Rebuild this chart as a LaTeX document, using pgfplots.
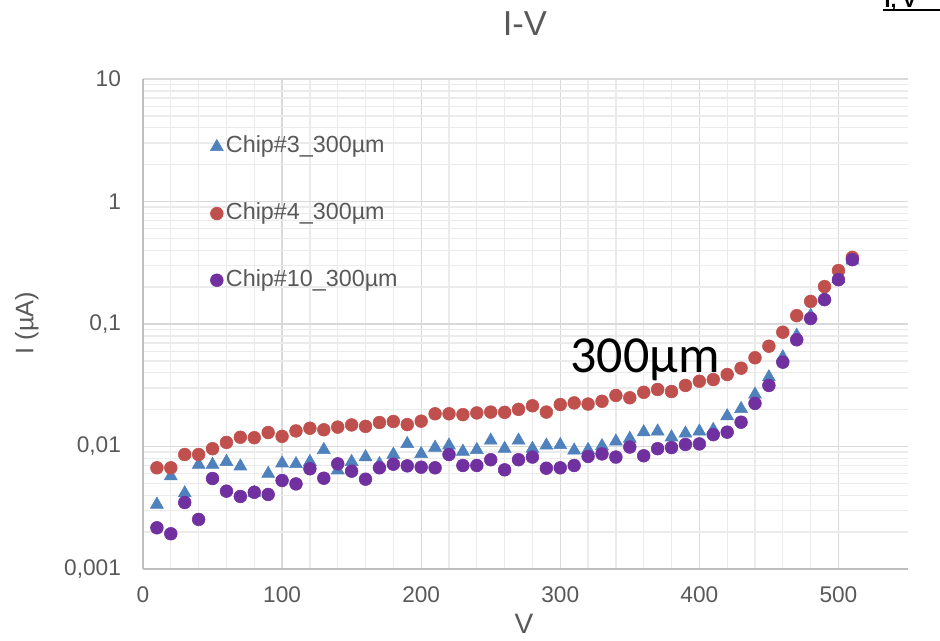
\documentclass[border=0pt]{standalone}
\usepackage{pgfplots}
\pgfplotsset{compat=1.18}
\usepackage{fontspec}
\setmainfont{Liberation Sans}
\newfontfamily\calfont{Carlito}
\definecolor{textgray}{HTML}{595959}
\definecolor{gridmajor}{HTML}{D9D9D9}
\definecolor{gridminor}{HTML}{EBEBEB}
\definecolor{axisgray}{HTML}{BFBFBF}
\definecolor{cblue}{HTML}{4F81BD}
\definecolor{cred}{HTML}{C0504D}
\definecolor{cpurple}{HTML}{7030A0}
\pgfplotstableread{
V I
10 0.00336
20 0.00573
30 0.00416
40 0.0071
50 0.0071
60 0.0075
70 0.0069
80 0.0042
90 0.0060
100 0.0073
110 0.0072
120 0.0075
130 0.0094
140 0.0064
150 0.0075
160 0.0082
170 0.0072
180 0.0086
190 0.0105
200 0.0087
210 0.0098
220 0.0102
230 0.0091
240 0.0094
250 0.0112
260 0.0096
270 0.0112
280 0.0096
290 0.0102
300 0.0103
310 0.0093
320 0.0094
330 0.0101
340 0.0110
350 0.0116
360 0.0131
370 0.0133
380 0.0119
390 0.0128
400 0.0133
410 0.0137
420 0.0177
430 0.0203
440 0.0266
450 0.0368
460 0.0536
470 0.0806
480 0.117
490 0.166
500 0.234
510 0.33
}\chipthree
\pgfplotstableread{
V I
10 0.0067
20 0.0067
30 0.0086
40 0.0086
50 0.0096
60 0.0108
70 0.0119
80 0.0118
90 0.0130
100 0.0121
110 0.0134
120 0.0141
130 0.0137
140 0.0144
150 0.0150
160 0.0146
170 0.0157
180 0.0160
190 0.0151
200 0.0161
210 0.0185
220 0.0185
230 0.0182
240 0.0188
250 0.0191
260 0.0190
270 0.0201
280 0.0215
290 0.0191
300 0.0220
310 0.0227
320 0.0222
330 0.0234
340 0.0261
350 0.0250
360 0.0277
370 0.0292
380 0.0281
390 0.0315
400 0.0341
410 0.0352
420 0.0387
430 0.0436
440 0.0530
450 0.0659
460 0.0857
470 0.117
480 0.153
490 0.202
500 0.273
510 0.35
}\chipfour
\pgfplotstableread{
V I
10 0.00217
20 0.00194
30 0.00349
40 0.00254
50 0.00548
60 0.00432
70 0.00391
80 0.00423
90 0.00406
100 0.00528
110 0.00495
120 0.00658
130 0.00551
140 0.00722
150 0.00629
160 0.00541
170 0.0067
180 0.00717
190 0.00695
200 0.00678
210 0.0067
220 0.0086
230 0.0070
240 0.0070
250 0.0078
260 0.00645
270 0.0078
280 0.0082
290 0.00665
300 0.0067
310 0.0070
320 0.0083
330 0.0087
340 0.0082
350 0.0099
360 0.0084
370 0.0096
380 0.0098
390 0.0104
400 0.0105
410 0.0125
420 0.0131
430 0.0158
440 0.0225
450 0.0315
460 0.0488
470 0.0743
480 0.111
490 0.158
500 0.230
510 0.335
}\chipten
\pgfplotsset{
  myleg/.style={legend image code/.code={\draw[mark repeat=2,mark phase=2,##1] plot coordinates {(0cm,0cm)(0.15cm,0cm)(0.3cm,0cm)};}}
}
\begin{document}
\begin{tikzpicture}
\path[use as bounding box] (-107.25pt,-53.25pt) rectangle (597.75pt,426.75pt);
\begin{axis}[
  at={(0,0)}, anchor=south west, scale only axis,
  width=573.75pt, height=367.5pt,
  xmin=0, xmax=550, ymode=log, ymin=0.001, ymax=10,
  xtick={0,100,...,500}, minor x tick num=4,
  ytick={0.001,0.01,0.1,1,10},
  yticklabels={{0,001},{0,01},{0,1},{1},{10}},
  grid=both,
  major grid style={color=gridmajor, line width=1pt},
  minor grid style={color=gridminor, line width=1pt},
  axis lines*=left,
  axis line style={color=axisgray, line width=1.1pt},
  major tick length=0pt, minor tick length=0pt,
  tick label style={font=\fontsize{17}{20}\selectfont, color=textgray},
  xticklabel style={yshift=-10pt},
  yticklabel style={xshift=-13pt},
  /pgf/number format/assume math mode=true,
  title={I-V},
  title style={at={(axis description cs:0.4993,1.096)}, anchor=center, font=\fontsize{26}{30}\selectfont, color=textgray},
  xlabel={V},
  xlabel style={at={(axis description cs:0.498,-0.112)}, anchor=center, font=\fontsize{21}{24}\selectfont, color=textgray},
  ylabel={I (µA)},
  ylabel style={at={(axis description cs:-0.152,0.502)}, anchor=center, font=\fontsize{19}{22}\selectfont, color=textgray},
  legend style={at={(axis description cs:0.0825,0.896)}, anchor=north west, draw=none, fill=none,
    font=\fontsize{17.5}{21}\selectfont, text=textgray, row sep=29pt,
    nodes={inner sep=2pt, text height=13pt, text depth=4pt}},
  legend cell align=left,
]
\addplot[only marks, mark=triangle*, mark size=5.6pt, color=cblue, mark options={draw=none, fill=cblue}, myleg] table[x=V, y=I] {\chipthree};
\addlegendentry{Chip\#3\_300µm}
\addplot[only marks, mark=*, mark size=4.8pt, color=cred, mark options={draw=none, fill=cred}, myleg] table[x=V, y=I] {\chipfour};
\addlegendentry{Chip\#4\_300µm}
\addplot[only marks, mark=*, mark size=4.8pt, color=cpurple, mark options={draw=none, fill=cpurple}, myleg] table[x=V, y=I] {\chipten};
\addlegendentry{Chip\#10\_300µm}
\node[anchor=base west, inner sep=0pt, font=\calfont\fontsize{39}{40}\selectfont, text=black] at (axis cs:307.2,0.0402) {300µm};
\end{axis}
\begin{scope}
\clip (555pt,417pt) rectangle (597.75pt,426.75pt);
\node[anchor=base west, inner sep=0pt, font=\bfseries\fontsize{16}{18}\selectfont, text=black] at (556pt,421pt) {I, V};
\draw[line width=1.2pt, black] (555pt,419.25pt) -- (597.75pt,419.25pt);
\end{scope}
\end{tikzpicture}
\end{document}
